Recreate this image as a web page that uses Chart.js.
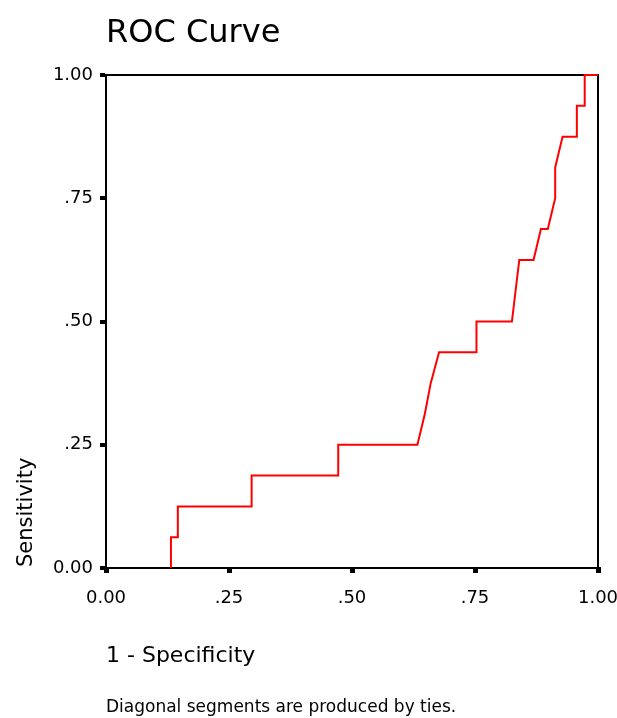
<!DOCTYPE html>
<html>
<head>
<meta charset="utf-8">
<title>ROC Curve</title>
<script src="https://cdn.jsdelivr.net/npm/chart.js@4/dist/chart.umd.min.js"></script>
<style>
    body { margin: 0; background: #fff; }
    #wrap { position: relative; width: 617px; height: 718px; font-family: 'DejaVu Sans', sans-serif; color: #000; }
    #roc { position: absolute; left: 0; top: 0; }
    .txt { position: absolute; white-space: nowrap; }
    #title { left: 106px; top: 15px; font-size: 32px; line-height: 32px; }
    #xlabel { left: 106px; top: 644px; font-size: 22px; line-height: 22px; }
    #ylabel { left: 15px; top: 567px; font-size: 21px; line-height: 21px; transform-origin: 0 0; transform: rotate(-90deg); }
    #note { left: 106px; top: 698px; font-size: 17px; line-height: 17px; }
</style>
</head>
<body>
<div id="wrap">
    <canvas id="roc" width="617" height="718"></canvas>
    <div class="txt" id="title">ROC Curve</div>
    <div class="txt" id="ylabel">Sensitivity</div>
    <div class="txt" id="xlabel">1 - Specificity</div>
    <div class="txt" id="note">Diagonal segments are produced by ties.</div>
</div>
<script>
// 1 - specificity (x) and sensitivity (y)
const oneMinusSpec = [0.132, 0.132, 0.146, 0.146, 0.296, 0.296, 0.472, 0.472, 0.633, 0.648, 0.660, 0.677,
    0.753, 0.753, 0.825, 0.840, 0.869, 0.884, 0.898, 0.913, 0.913, 0.928, 0.957, 0.957, 0.973, 0.973, 1.0];
const sensitivity = [0, 0.0625, 0.0625, 0.125, 0.125, 0.1875, 0.1875, 0.25, 0.25, 0.3125, 0.375, 0.4375,
    0.4375, 0.5, 0.5, 0.625, 0.625, 0.6875, 0.6875, 0.75, 0.8125, 0.875, 0.875, 0.9375, 0.9375, 1.0, 1.0];
const tickLabels = ['0.00', '.25', '.50', '.75', '1.00'];

const points = oneMinusSpec.map((x, i) => ({ x: x, y: sensitivity[i] }));

// top and right edges of the plot frame
const frame = {
    id: 'frame',
    beforeDatasetsDraw(chart) {
        const a = chart.chartArea;
        const ctx = chart.ctx;
        ctx.save();
        ctx.strokeStyle = '#000';
        ctx.lineWidth = 2;
        ctx.beginPath();
        ctx.moveTo(a.left, a.top);
        ctx.lineTo(a.right, a.top);
        ctx.lineTo(a.right, a.bottom);
        ctx.stroke();
        ctx.restore();
    }
};

Chart.defaults.font.family = "'DejaVu Sans', sans-serif";
Chart.defaults.color = '#000';

new Chart(document.getElementById('roc'), {
    type: 'line',
    data: {
        datasets: [{
            data: points,
            borderColor: '#ff0000',
            borderWidth: 2,
            pointRadius: 0,
            tension: 0,
            fill: false,
            clip: 4
        }]
    },
    options: {
        responsive: false,
        animation: false,
        devicePixelRatio: 1,
        layout: { padding: { left: 0, top: 75, right: 19, bottom: 0 } },
        plugins: { legend: { display: false }, tooltip: { enabled: false } },
        scales: {
            x: {
                type: 'linear',
                min: 0,
                max: 1,
                afterFit: s => { s.height = 150; s.paddingLeft = 0; s.paddingRight = 0; },
                border: { display: true, color: '#000', width: 2 },
                grid: { drawOnChartArea: false, drawTicks: true, tickLength: 5, lineWidth: 5, color: '#000' },
                ticks: {
                    stepSize: 0.25,
                    padding: 15,
                    font: { size: 18 },
                    maxRotation: 0,
                    callback: (v, i) => tickLabels[i]
                }
            },
            y: {
                type: 'linear',
                min: 0,
                max: 1,
                afterFit: s => { s.width = 106; s.paddingTop = 0; s.paddingBottom = 0; },
                border: { display: true, color: '#000', width: 2 },
                grid: { drawOnChartArea: false, drawTicks: true, tickLength: 6, lineWidth: 4, color: '#000' },
                ticks: {
                    stepSize: 0.25,
                    padding: 7,
                    font: { size: 18 },
                    callback: (v, i) => tickLabels[i]
                }
            }
        }
    },
    plugins: [frame]
});
</script>
</body>
</html>
